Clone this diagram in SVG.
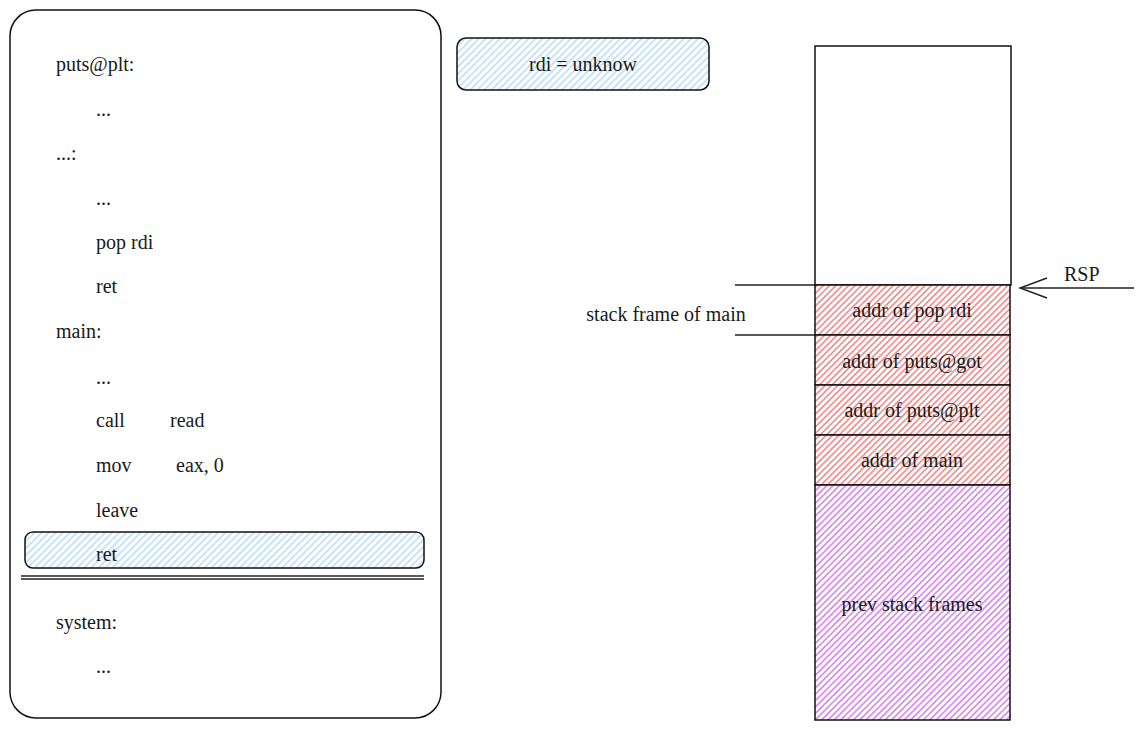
<svg xmlns="http://www.w3.org/2000/svg" width="1144" height="732" viewBox="0 0 1144 732">
<style>
text{font-family:"Liberation Serif","Times New Roman",serif;font-size:20px;fill:#1a1a1a}
.c{text-anchor:middle}
.box{stroke:#111;stroke-width:1.5}
.ln{stroke:#222;stroke-width:1.4;fill:none}
</style>
<defs>
<pattern id="hb" width="5" height="5" patternUnits="userSpaceOnUse" patternTransform="rotate(45)">
<rect width="5" height="5" fill="#fff"/><line x1="1" y1="0" x2="1" y2="5" stroke="#a9d4f7" stroke-width="1.3"/>
</pattern>
<pattern id="hr" width="4.5" height="4.5" patternUnits="userSpaceOnUse" patternTransform="rotate(45)">
<rect width="4.5" height="4.5" fill="#fff"/><line x1="1" y1="0" x2="1" y2="4.5" stroke="#ee8080" stroke-width="1.5"/>
</pattern>
<pattern id="hp" width="4.5" height="4.5" patternUnits="userSpaceOnUse" patternTransform="rotate(45)">
<rect width="4.5" height="4.5" fill="#fff"/><line x1="1" y1="0" x2="1" y2="4.5" stroke="#cf72e6" stroke-width="1.4"/>
</pattern>
<marker id="arr" markerWidth="30" markerHeight="24" refX="28" refY="12" orient="auto" markerUnits="userSpaceOnUse">
<path d="M1 2 L28 12 L1 22" fill="none" stroke="#222" stroke-width="1.4"/>
</marker>
</defs>
<g id="code">
<rect class="box" x="10" y="10" width="431" height="708" rx="26" fill="#fff"/>
<text x="56" y="71">puts@plt:</text>
<text x="96" y="116">...</text>
<text x="56" y="160">...:</text>
<text x="96" y="205">...</text>
<text x="96" y="249">pop rdi</text>
<text x="96" y="293">ret</text>
<text x="56" y="338">main:</text>
<text x="96" y="384">...</text>
<text x="96" y="427">call</text><text x="170" y="427">read</text>
<text x="96" y="472">mov</text><text x="176" y="472">eax, 0</text>
<text x="96" y="517">leave</text>
<text x="56" y="629">system:</text>
<text x="96" y="673">...</text>
</g>
<g id="ret-highlight">
<rect class="box" x="25" y="532" width="399" height="36" rx="8" fill="url(#hb)"/>
<text x="96" y="561">ret</text>
</g>
<g id="separator">
<line class="ln" x1="21" y1="576" x2="424" y2="576"/>
<line class="ln" x1="21" y1="579" x2="424" y2="579" stroke-width="1"/>
</g>
<g id="rdi">
<rect class="box" x="457" y="38" width="252" height="52" rx="9" fill="url(#hb)"/>
<text class="c" x="583" y="71">rdi = unknow</text>
</g>
<g id="stack-top"><rect class="box" x="815" y="46" width="196" height="239" fill="#fff"/></g>
<g id="cell-poprdi"><rect class="box" x="815" y="285" width="195" height="50" fill="url(#hr)"/><text class="c" x="912" y="317">addr of pop rdi</text></g>
<g id="cell-putsgot"><rect class="box" x="815" y="335" width="195" height="50" fill="url(#hr)"/><text class="c" x="912" y="368">addr of puts@got</text></g>
<g id="cell-putsplt"><rect class="box" x="815" y="385" width="195" height="50" fill="url(#hr)"/><text class="c" x="912" y="417">addr of puts@plt</text></g>
<g id="cell-main"><rect class="box" x="815" y="435" width="195" height="50" fill="url(#hr)"/><text class="c" x="912" y="467">addr of main</text></g>
<g id="cell-prev"><rect class="box" x="815" y="485" width="195" height="235" fill="url(#hp)"/><text class="c" x="912" y="611">prev stack frames</text></g>
<g id="label-frame"><text class="c" x="666" y="321">stack frame of main</text></g>
<g id="label-rsp"><text x="1064" y="281">RSP</text></g>
<g id="connectors">
<line class="ln" x1="735" y1="285" x2="815" y2="285"/>
<line class="ln" x1="735" y1="335" x2="815" y2="335"/>
<line class="ln" x1="1134" y1="288" x2="1020" y2="288" marker-end="url(#arr)"/>
</g>
</svg>
